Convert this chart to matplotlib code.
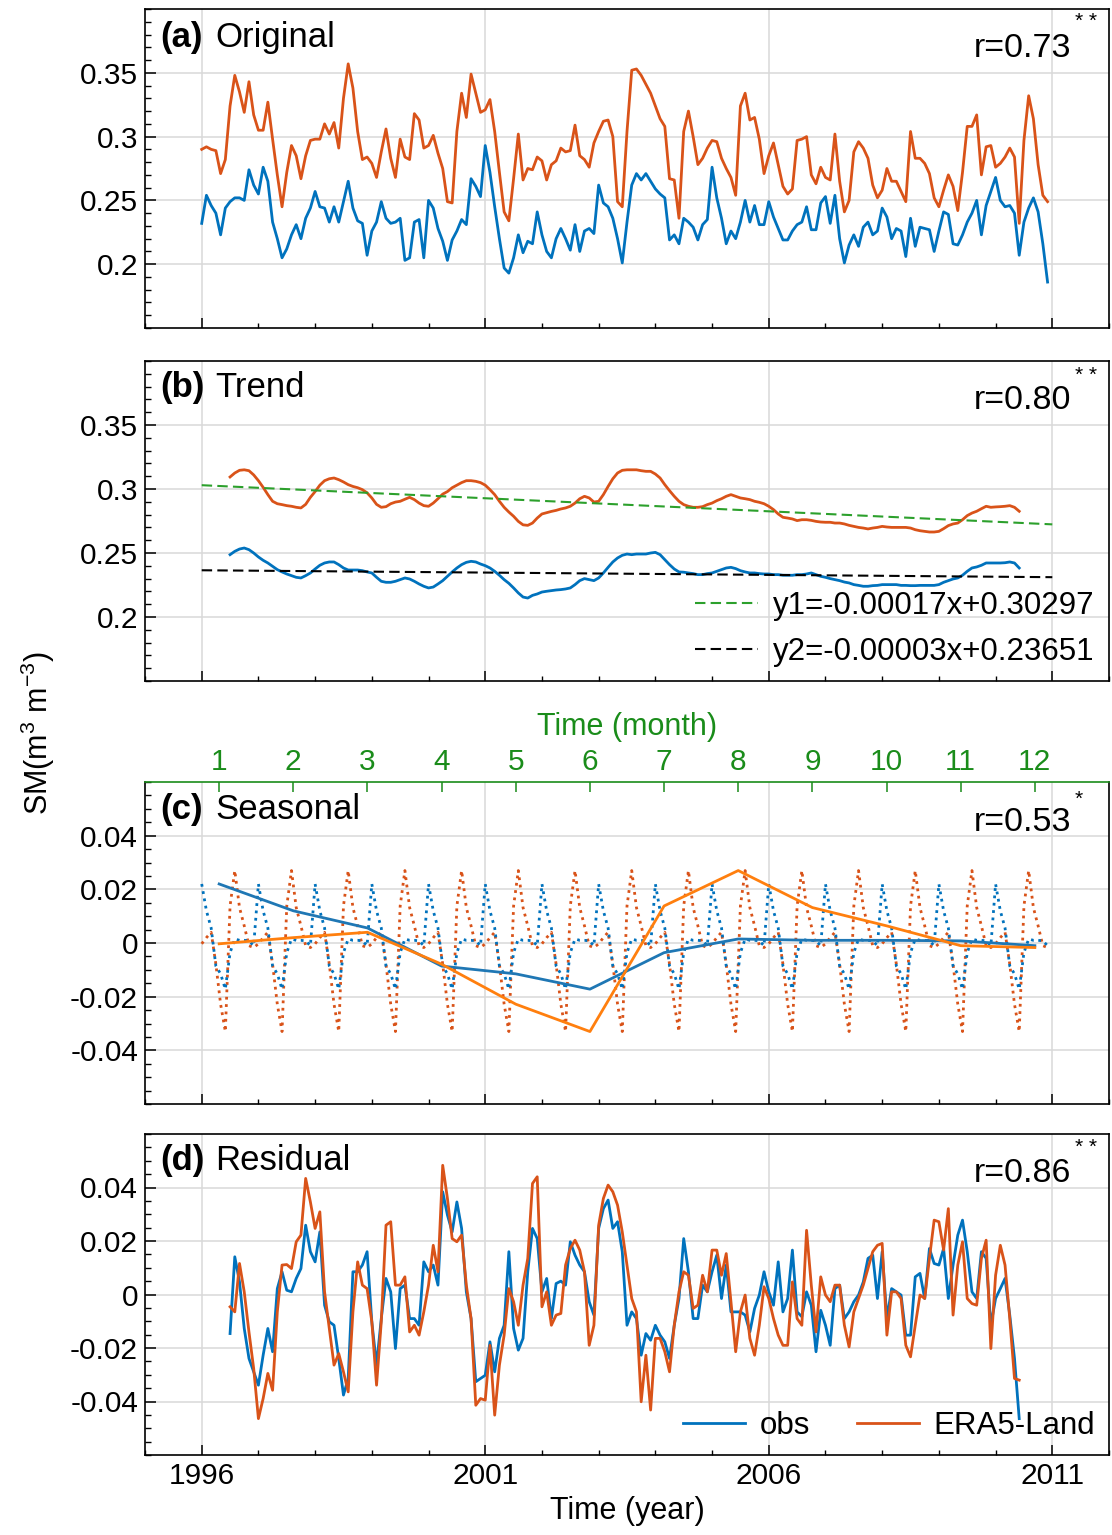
import numpy as np
import matplotlib
matplotlib.use('Agg')
import matplotlib.pyplot as plt
from matplotlib.ticker import FixedLocator, MultipleLocator, FuncFormatter

plt.rcParams['font.family'] = ['Liberation Sans', 'DejaVu Sans']
plt.rcParams['axes.unicode_minus'] = False
plt.rcParams['mathtext.fontset'] = 'custom'
plt.rcParams['mathtext.rm'] = 'Liberation Sans'
plt.rcParams['mathtext.it'] = 'Liberation Sans:italic'

# ---------------- data ----------------
start_year = 1996
n_months = 180          # Jan 1996 .. Dec 2010
trend_first = 6         # first month index of trend / residual
year_ticks = [1996, 2001, 2006, 2011]
month_ticks = [1, 2, 3, 4, 5, 6, 7, 8, 9, 10, 11, 12]

obs_orig = [
    0.232, 0.254, 0.246, 0.240, 0.223, 0.244, 0.249, 0.252, 0.252, 0.250,
    0.274, 0.262, 0.255, 0.276, 0.265, 0.233, 0.220, 0.205, 0.212, 0.223,
    0.231, 0.220, 0.236, 0.244, 0.257, 0.245, 0.244, 0.233, 0.245, 0.233,
    0.249, 0.265, 0.244, 0.234, 0.232, 0.207, 0.226, 0.233, 0.249, 0.236,
    0.232, 0.233, 0.236, 0.203, 0.205, 0.233, 0.235, 0.205, 0.250, 0.244,
    0.228, 0.218, 0.203, 0.219, 0.226, 0.235, 0.231, 0.267, 0.261, 0.253,
    0.293, 0.272, 0.245, 0.220, 0.197, 0.193, 0.205, 0.223, 0.209, 0.218,
    0.216, 0.241, 0.223, 0.210, 0.205, 0.220, 0.228, 0.220, 0.211, 0.231,
    0.210, 0.226, 0.228, 0.224, 0.262, 0.248, 0.245, 0.236, 0.220, 0.201,
    0.233, 0.262, 0.271, 0.266, 0.271, 0.265, 0.259, 0.255, 0.252, 0.219,
    0.223, 0.216, 0.236, 0.233, 0.229, 0.219, 0.231, 0.235, 0.276, 0.252,
    0.236, 0.216, 0.226, 0.220, 0.233, 0.250, 0.233, 0.246, 0.231, 0.231,
    0.249, 0.237, 0.228, 0.219, 0.219, 0.226, 0.231, 0.233, 0.245, 0.227,
    0.227, 0.248, 0.253, 0.232, 0.254, 0.220, 0.201, 0.215, 0.223, 0.214,
    0.229, 0.233, 0.223, 0.226, 0.244, 0.237, 0.220, 0.228, 0.226, 0.206,
    0.236, 0.214, 0.229, 0.228, 0.227, 0.210, 0.226, 0.241, 0.239, 0.216,
    0.215, 0.223, 0.233, 0.240, 0.250, 0.223, 0.246, 0.257, 0.268, 0.250,
    0.245, 0.246, 0.240, 0.207, 0.233, 0.244, 0.252, 0.241, 0.216, 0.186,
]

era_orig = [
    0.290, 0.292, 0.290, 0.289, 0.271, 0.282, 0.324, 0.348, 0.335, 0.319,
    0.343, 0.317, 0.305, 0.305, 0.327, 0.298, 0.270, 0.245, 0.272, 0.293,
    0.285, 0.267, 0.285, 0.297, 0.298, 0.298, 0.310, 0.302, 0.311, 0.291,
    0.330, 0.357, 0.338, 0.304, 0.282, 0.284, 0.279, 0.268, 0.288, 0.306,
    0.283, 0.268, 0.298, 0.284, 0.282, 0.318, 0.313, 0.291, 0.293, 0.301,
    0.287, 0.275, 0.249, 0.248, 0.304, 0.334, 0.315, 0.349, 0.334, 0.319,
    0.321, 0.329, 0.304, 0.272, 0.241, 0.234, 0.267, 0.302, 0.266, 0.275,
    0.274, 0.284, 0.281, 0.266, 0.278, 0.281, 0.291, 0.288, 0.289, 0.309,
    0.285, 0.282, 0.276, 0.295, 0.304, 0.312, 0.313, 0.300, 0.249, 0.245,
    0.304, 0.352, 0.353, 0.348, 0.341, 0.334, 0.324, 0.314, 0.308, 0.267,
    0.266, 0.236, 0.304, 0.320, 0.300, 0.278, 0.283, 0.291, 0.297, 0.296,
    0.283, 0.275, 0.268, 0.254, 0.324, 0.334, 0.313, 0.315, 0.298, 0.271,
    0.285, 0.295, 0.278, 0.261, 0.255, 0.259, 0.297, 0.298, 0.300, 0.270,
    0.263, 0.276, 0.268, 0.266, 0.302, 0.265, 0.241, 0.250, 0.288, 0.296,
    0.291, 0.283, 0.262, 0.252, 0.258, 0.275, 0.265, 0.265, 0.257, 0.249,
    0.304, 0.283, 0.283, 0.279, 0.271, 0.252, 0.245, 0.258, 0.270, 0.261,
    0.242, 0.272, 0.308, 0.308, 0.317, 0.270, 0.292, 0.293, 0.276, 0.279,
    0.284, 0.291, 0.284, 0.232, 0.297, 0.332, 0.314, 0.278, 0.254, 0.249,
]

era_trend = [
    0.3094, 0.3125, 0.3146, 0.3150, 0.3143, 0.3110, 0.3065, 0.3013, 0.2956, 0.2904,
    0.2885, 0.2878, 0.2870, 0.2865, 0.2857, 0.2852, 0.2880, 0.2935, 0.2980, 0.3030,
    0.3065, 0.3080, 0.3086, 0.3073, 0.3055, 0.3034, 0.3020, 0.3010, 0.2995, 0.2970,
    0.2930, 0.2880, 0.2857, 0.2862, 0.2885, 0.2898, 0.2904, 0.2920, 0.2935, 0.2917,
    0.2890, 0.2870, 0.2865, 0.2890, 0.2924, 0.2960, 0.2980, 0.3010, 0.3030, 0.3050,
    0.3065, 0.3065, 0.3060, 0.3050, 0.3030, 0.2995, 0.2956, 0.2904, 0.2857, 0.2820,
    0.2787, 0.2747, 0.2720, 0.2716, 0.2734, 0.2773, 0.2805, 0.2815, 0.2825, 0.2833,
    0.2844, 0.2852, 0.2865, 0.2890, 0.2924, 0.2943, 0.2930, 0.2898, 0.2904, 0.2956,
    0.3020, 0.3080, 0.3125, 0.3146, 0.3150, 0.3150, 0.3150, 0.3143, 0.3138, 0.3138,
    0.3117, 0.3086, 0.3034, 0.2987, 0.2943, 0.2904, 0.2878, 0.2865, 0.2857, 0.2857,
    0.2862, 0.2878, 0.2890, 0.2909, 0.2924, 0.2943, 0.2956, 0.2943, 0.2930, 0.2924,
    0.2917, 0.2904, 0.2896, 0.2885, 0.2865, 0.2839, 0.2805, 0.2779, 0.2773, 0.2766,
    0.2753, 0.2760, 0.2760, 0.2755, 0.2747, 0.2742, 0.2740, 0.2740, 0.2734, 0.2734,
    0.2727, 0.2716, 0.2708, 0.2700, 0.2695, 0.2688, 0.2695, 0.2700, 0.2708, 0.2703,
    0.2700, 0.2700, 0.2700, 0.2700, 0.2695, 0.2682, 0.2674, 0.2669, 0.2664, 0.2664,
    0.2669, 0.2690, 0.2714, 0.2727, 0.2734, 0.2760, 0.2792, 0.2812, 0.2826, 0.2846,
    0.2865, 0.2857, 0.2860, 0.2862, 0.2865, 0.2870, 0.2857, 0.2826,
]

obs_trend = [
    0.2487, 0.2513, 0.2531, 0.2539, 0.2526, 0.2500, 0.2469, 0.2443, 0.2422, 0.2396,
    0.2370, 0.2352, 0.2336, 0.2323, 0.2310, 0.2305, 0.2323, 0.2344, 0.2375, 0.2404,
    0.2422, 0.2430, 0.2430, 0.2409, 0.2383, 0.2367, 0.2367, 0.2367, 0.2362, 0.2352,
    0.2344, 0.2310, 0.2279, 0.2271, 0.2271, 0.2279, 0.2292, 0.2305, 0.2297, 0.2279,
    0.2258, 0.2240, 0.2227, 0.2234, 0.2258, 0.2284, 0.2318, 0.2352, 0.2383, 0.2409,
    0.2427, 0.2435, 0.2430, 0.2414, 0.2401, 0.2383, 0.2357, 0.2326, 0.2292, 0.2263,
    0.2227, 0.2188, 0.2156, 0.2148, 0.2169, 0.2180, 0.2195, 0.2201, 0.2206, 0.2211,
    0.2214, 0.2219, 0.2227, 0.2253, 0.2284, 0.2300, 0.2292, 0.2284, 0.2305, 0.2344,
    0.2388, 0.2430, 0.2461, 0.2482, 0.2492, 0.2487, 0.2492, 0.2492, 0.2492, 0.2500,
    0.2505, 0.2487, 0.2448, 0.2409, 0.2375, 0.2352, 0.2350, 0.2344, 0.2339, 0.2331,
    0.2331, 0.2339, 0.2344, 0.2357, 0.2370, 0.2383, 0.2388, 0.2378, 0.2362, 0.2352,
    0.2344, 0.2344, 0.2339, 0.2336, 0.2336, 0.2331, 0.2331, 0.2326, 0.2326, 0.2326,
    0.2331, 0.2331, 0.2336, 0.2344, 0.2331, 0.2318, 0.2310, 0.2300, 0.2292, 0.2284,
    0.2273, 0.2266, 0.2253, 0.2247, 0.2240, 0.2240, 0.2245, 0.2247, 0.2253, 0.2253,
    0.2253, 0.2253, 0.2247, 0.2247, 0.2245, 0.2245, 0.2247, 0.2247, 0.2247, 0.2247,
    0.2253, 0.2271, 0.2284, 0.2297, 0.2305, 0.2326, 0.2357, 0.2383, 0.2391, 0.2404,
    0.2422, 0.2422, 0.2422, 0.2422, 0.2424, 0.2430, 0.2422, 0.2383,
]

fit_slope = [-0.00017, -0.00003]
fit_intercept = [0.30297, 0.23651]
fit_labels = ['y1=-0.00017x+0.30297', 'y2=-0.00003x+0.23651']

obs_season = [0.0220, 0.0120, 0.0056, -0.0086, -0.0115, -0.0172,
              -0.0036, 0.0015, 0.0010, 0.0010, 0.0008, -0.0010]
era_season = [-0.0003, 0.0020, 0.0040, -0.0079, -0.0228, -0.0330,
              0.0138, 0.0270, 0.0132, 0.0064, -0.0010, -0.0017]

obs_resid = [
    -0.0146, 0.0141, 0.0047, -0.0127, -0.0239, -0.0289, -0.0339, -0.0227, -0.0127, -0.0214,
    0.0022, 0.0085, 0.0016, 0.0010, 0.0060, 0.0097, 0.0259, 0.0160, 0.0122, 0.0234,
    -0.0040, -0.0102, -0.0115, -0.0239, -0.0376, -0.0314, 0.0085, 0.0085, 0.0110, 0.0160,
    -0.0102, -0.0264, -0.0090, 0.0060, 0.0010, -0.0202, 0.0022, 0.0035, -0.0090, -0.0090,
    -0.0115, 0.0122, 0.0085, 0.0110, 0.0035, 0.0384, 0.0297, 0.0234, 0.0346, 0.0247,
    0.0010, -0.0090, -0.0326, -0.0314, -0.0302, -0.0177, -0.0289, -0.0164, -0.0115, 0.0160,
    -0.0127, -0.0208, -0.0164, 0.0085, 0.0247, 0.0209, 0.0010, 0.0060, -0.0090, 0.0041,
    0.0050, 0.0035, 0.0197, 0.0147, 0.0110, 0.0085, -0.0027, -0.0077, 0.0247, 0.0321,
    0.0353, 0.0247, 0.0272, 0.0160, -0.0115, -0.0065, -0.0090, -0.0227, -0.0146, -0.0171,
    -0.0115, -0.0152, -0.0177, -0.0239, -0.0115, -0.0015, 0.0209, 0.0085, -0.0090, -0.0090,
    0.0035, 0.0010, 0.0085, 0.0147, -0.0015, 0.0110, -0.0065, -0.0065, -0.0065, -0.0077,
    -0.0140, -0.0052, -0.0002, 0.0085, 0.0010, -0.0040, 0.0122, -0.0065, -0.0015, 0.0166,
    -0.0065, -0.0083, 0.0010, -0.0040, -0.0214, -0.0059, -0.0115, -0.0190, 0.0022, 0.0035,
    -0.0090, -0.0065, -0.0027, -0.0002, 0.0047, 0.0135, 0.0147, -0.0015, 0.0160, -0.0090,
    0.0022, 0.0010, -0.0002, -0.0152, -0.0152, 0.0066, 0.0079, -0.0015, 0.0172, 0.0116,
    0.0110, 0.0172, -0.0015, 0.0110, 0.0222, 0.0278, 0.0160, 0.0010, -0.0015, 0.0160,
    0.0135, -0.0115, -0.0015, 0.0022, 0.0060, -0.0077, -0.0239, -0.0464,
]

era_resid = [
    -0.0046, -0.0065, 0.0116, 0.0010, -0.0140, -0.0277, -0.0464, -0.0389, -0.0295, -0.0358,
    -0.0065, 0.0110, 0.0112, 0.0097, 0.0197, 0.0222, 0.0434, 0.0346, 0.0247, 0.0309,
    0.0010, -0.0127, -0.0264, -0.0221, -0.0289, -0.0364, -0.0065, 0.0122, 0.0035, 0.0022,
    -0.0102, -0.0339, -0.0102, 0.0259, 0.0272, 0.0035, 0.0035, 0.0066, -0.0140, -0.0115,
    -0.0152, -0.0065, 0.0035, 0.0184, 0.0085, 0.0483, 0.0359, 0.0209, 0.0197, 0.0222,
    0.0035, -0.0090, -0.0414, -0.0389, -0.0395, -0.0190, -0.0451, -0.0264, -0.0152, 0.0022,
    -0.0027, -0.0115, 0.0035, 0.0135, 0.0415, 0.0440, -0.0046, 0.0010, -0.0115, -0.0077,
    -0.0071, 0.0110, 0.0172, 0.0203, 0.0166, 0.0085, -0.0190, -0.0115, 0.0259, 0.0359,
    0.0409, 0.0384, 0.0334, 0.0234, 0.0110, -0.0015, -0.0065, -0.0401, -0.0227, -0.0432,
    -0.0164, -0.0164, -0.0214, -0.0289, -0.0115, 0.0010, 0.0085, 0.0072, -0.0052, -0.0040,
    0.0072, 0.0010, 0.0166, 0.0166, 0.0072, 0.0153, -0.0027, -0.0214, -0.0065, -0.0002,
    -0.0164, -0.0227, -0.0115, 0.0029, -0.0015, -0.0090, -0.0152, -0.0190, -0.0190, 0.0047,
    -0.0090, -0.0115, 0.0240, 0.0035, -0.0140, 0.0066, -0.0002, -0.0027, 0.0035, 0.0035,
    -0.0115, -0.0196, -0.0065, -0.0015, 0.0035, 0.0097, 0.0160, 0.0184, 0.0191, -0.0152,
    0.0010, 0.0010, -0.0015, -0.0190, -0.0233, -0.0115, -0.0002, -0.0015, 0.0135, 0.0278,
    0.0272, 0.0166, 0.0321, -0.0077, 0.0110, 0.0197, -0.0015, -0.0034, -0.0040, 0.0135,
    0.0203, -0.0202, 0.0072, 0.0184, 0.0110, -0.0090, -0.0314, -0.0320,
]

panel_titles = [('(a)', 'Original'), ('(b)', 'Trend'), ('(c)', 'Seasonal'), ('(d)', 'Residual')]
r_texts = ['r=0.73', 'r=0.80', 'r=0.53', 'r=0.86']
r_stars = ['* *', '* *', '*', '* *']
series_names = ['obs', 'ERA5-Land']

# ---------------- styling ----------------
BLUE = '#0072BD'
ORANGE = '#D95319'
BLUE2 = '#1F77B4'
ORANGE2 = '#FF7F0E'
GREEN_TXT = '#1A8C1A'
GREEN_LINE = '#2CA02C'
GRID = '#d9d9d9'

W, H = 1112, 1535
fig = plt.figure(figsize=(W / 100, H / 100), dpi=100)


def rect(l, t, r, b):
    return [l / W, 1 - b / H, (r - l) / W, (b - t) / H]


ax_a = fig.add_axes(rect(145, 9, 1109, 328))
ax_b = fig.add_axes(rect(145, 361, 1109, 681))
ax_c = fig.add_axes(rect(145, 782, 1109, 1104))
ax_d = fig.add_axes(rect(145, 1134, 1109, 1455))
axes = [ax_a, ax_b, ax_c, ax_d]

fmt = FuncFormatter(lambda v, p: '%g' % round(v, 4))


def style(ax, ylim, major, minor, xlabels):
    ax.set_xlim(1995, 2012)
    ax.set_ylim(*ylim)
    ax.xaxis.set_major_locator(FixedLocator(year_ticks))
    ax.xaxis.set_minor_locator(MultipleLocator(1))
    ax.yaxis.set_major_locator(FixedLocator(major))
    ax.yaxis.set_minor_locator(MultipleLocator(minor))
    ax.yaxis.set_major_formatter(fmt)
    ax.tick_params(which='both', direction='in', top=False, right=False,
                   labelsize=21.5, pad=5)
    ax.tick_params(axis='y', which='major', length=8, width=1.1)
    ax.tick_params(axis='y', which='minor', length=4, width=1.0)
    ax.tick_params(axis='x', which='major', length=7, width=1.1)
    ax.tick_params(axis='x', which='minor', length=3.5, width=1.0)
    ax.grid(True, which='major', color=GRID, lw=1.1)
    ax.set_axisbelow(True)
    for s in ax.spines.values():
        s.set_linewidth(1.2)
    if not xlabels:
        ax.tick_params(labelbottom=False)


style(ax_a, (0.15, 0.40), [0.2, 0.25, 0.3, 0.35], 0.01, False)
style(ax_b, (0.15, 0.40), [0.2, 0.25, 0.3, 0.35], 0.01, False)
style(ax_c, (-0.06, 0.06), [-0.04, -0.02, 0, 0.02, 0.04], 0.005, False)
style(ax_d, (-0.06, 0.06), [-0.04, -0.02, 0, 0.02, 0.04], 0.005, True)

t_full = start_year + np.arange(n_months) / 12.0
t_trend = start_year + (trend_first + np.arange(len(obs_trend))) / 12.0
t_resid = start_year + (trend_first + np.arange(len(obs_resid))) / 12.0

LW = 2.0
# (a) original
ax_a.plot(t_full, era_orig, color=ORANGE, lw=LW)
ax_a.plot(t_full, obs_orig, color=BLUE, lw=LW)

# (b) trend
ax_b.plot(t_trend, era_trend, color=ORANGE, lw=LW)
ax_b.plot(t_trend, obs_trend, color=BLUE, lw=LW)
fit_x = np.array([0, n_months])
fit_colors = [GREEN_LINE, 'black']
fit_handles = []
for k in range(2):
    yy = fit_slope[k] * fit_x + fit_intercept[k]
    h, = ax_b.plot(start_year + fit_x / 12.0, yy, color=fit_colors[k], lw=1.5,
                   dashes=(5, 2.5), label=fit_labels[k])
    fit_handles.append(h)
ax_b.legend(handles=fit_handles, loc='lower right', frameon=False, fontsize=22.5,
            handlelength=2.0, handletextpad=0.5, labelspacing=0.5,
            borderaxespad=0.25, borderpad=0.2)

# (c) seasonal: monthly seasonal component (repeats each year) + monthly climatology
n_years = n_months // 12
ax_c.plot(t_full, np.tile(era_season, n_years), color=ORANGE, lw=2.0, ls=':')
ax_c.plot(t_full, np.tile(obs_season, n_years), color=BLUE, lw=2.0, ls=':')
ax_c2 = ax_c.twiny()
ax_c2.set_xlim(0, 13)
ax_c2.plot(month_ticks, obs_season, color=BLUE2, lw=LW)
ax_c2.plot(month_ticks, era_season, color=ORANGE2, lw=LW)
ax_c2.set_xticks(month_ticks)
ax_c2.tick_params(axis='x', which='major', direction='in', length=7, width=1.1,
                  colors=GREEN_TXT, labelsize=21.5, pad=4)
ax_c2.spines['top'].set_color(GREEN_TXT)
ax_c2.spines['top'].set_linewidth(1.2)
ax_c.spines['top'].set_visible(False)
for s in ['left', 'right', 'bottom']:
    ax_c2.spines[s].set_visible(False)
ax_c2.set_xlabel('Time (month)', color=GREEN_TXT, fontsize=22, labelpad=10)

# (d) residual
h1, = ax_d.plot(t_resid, obs_resid, color=BLUE, lw=LW, label=series_names[0])
h2, = ax_d.plot(t_resid, era_resid, color=ORANGE, lw=LW, label=series_names[1])
ax_d.legend(handles=[h1, h2], loc='lower right', ncol=2, frameon=False, fontsize=22.5,
            handlelength=2.0, handletextpad=0.45, columnspacing=1.5,
            borderaxespad=0.25, borderpad=0.2)
ax_d.set_xlabel('Time (year)', fontsize=22, labelpad=4)

# panel annotations
label_y = [0.912, 0.916, 0.916, 0.919]
r_y = [0.876, 0.878, 0.873, 0.878]
star_y = [0.962, 0.955, 0.945, 0.958]
for ax, (tag, name), ly, rt, ry, st, sy in zip(axes, panel_titles, label_y, r_texts,
                                              r_y, r_stars, star_y):
    ax.text(0.0156, ly, tag, transform=ax.transAxes, fontsize=25, fontweight='bold',
            ha='left', va='center', zorder=10)
    ax.text(0.0727, ly, name, transform=ax.transAxes, fontsize=25,
            ha='left', va='center', zorder=10)
    ax.text(0.9605, ry, rt, transform=ax.transAxes, fontsize=24.5,
            ha='right', va='center', zorder=10)
    ax.text(0.9645, sy, st, transform=ax.transAxes, fontsize=15,
            ha='left', va='center', zorder=10)

fig.text(38 / W, 1 - 733 / H, r'SM(m$^{3}$ m$^{-3}$)', rotation=90, fontsize=22,
         ha='center', va='center')

fig.savefig('out.png', dpi=100)
